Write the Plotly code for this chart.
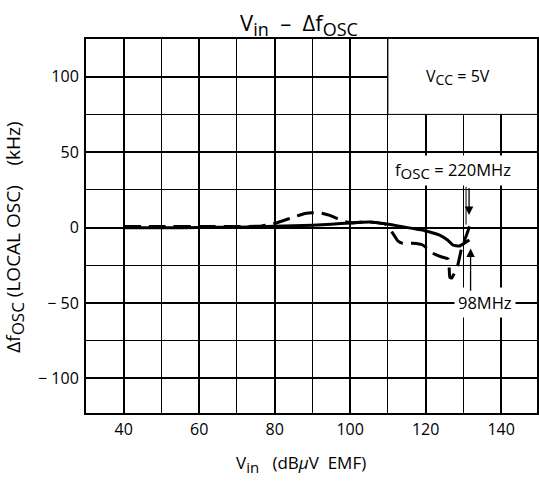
import plotly.graph_objects as go

# ---- data ----
x_98 = [40, 50, 60, 70, 76, 80, 85, 90, 95, 100, 105, 109.7, 113.9, 119.7, 123.7, 125.8, 127.2, 128.9, 130.2, 131.6]
y_98 = [-0.2, -0.2, 0.0, 0.2, 0.5, 0.8, 1.1, 1.5, 2.2, 3.0, 3.6, 2.3, 0.5, -2.1, -5.0, -8.3, -11.6, -12.3, -10.5, -8.3]

x_220 = [40, 50, 60, 70, 76, 79.6, 82.2, 84.9, 88, 90.2, 92.4, 94.6, 96.5, 98.5, 100.5, 105, 109.5,
         111.3, 112.6, 113.9, 116.6, 119.2, 121.9, 124.1, 126.0, 126.4, 126.9, 128.5, 129.4, 130.2, 131.6, 132.4]
y_220 = [0.7, 0.7, 0.7, 0.7, 0.9, 2.5, 4.5, 6.8, 9.3, 9.8, 9.5, 8.0, 6.0, 4.0, 3.2, 3.8, 2.0,
         -3.9, -8.8, -10.5, -10.5, -11.6, -17.1, -19.4, -21.0, -33.0, -33.5, -25.0, -15.0, -9.3, 0.5, 5.5]

x_ticks = [40, 60, 80, 100, 120, 140]
x_ticktext = ["40", "60", "80", "100", "120", "140"]
y_ticks = [-100, -50, 0, 50, 100]
y_ticktext = ["\u2212 100", "\u2212 50", "0", "50", "100"]

FONT = "Open Sans"


def sub(t, size):
    return "<sub><span style='font-size:%dpx'>%s</span></sub>" % (size, t)


fig = go.Figure()
fig.add_trace(go.Scatter(x=x_98, y=y_98, mode="lines", name="98MHz",
                         line=dict(color="black", width=3, shape="spline", smoothing=0.4)))
fig.add_trace(go.Scatter(x=x_220, y=y_220, mode="lines", name="220MHz",
                         line=dict(color="black", width=3, dash="17px,8px", shape="spline", smoothing=0.4)))

# white box for the Vcc note (no grid inside)
fig.add_shape(type="rect", xref="x", yref="y", x0=110, x1=150, y0=75, y1=126,
              fillcolor="white", line=dict(color="black", width=1), layer="between")
# extra thin guide line near the 220MHz arrow
fig.add_shape(type="line", xref="x", yref="y", x0=130.7, x1=130.7, y0=27, y1=2,
              line=dict(color="black", width=1), layer="between")

annotations = [
    dict(text="V" + sub("in", 18) + "  \u2013  \u0394f" + sub("OSC", 18), xref="paper", yref="paper",
         x=0.472, y=1.09, showarrow=False, font=dict(size=22, family=FONT, color="black")),
    dict(text="V" + sub("in", 15) + "   (dB<i>\u03bc</i>V  EMF)", xref="paper", yref="paper",
         x=0.477, y=-0.177, showarrow=False, font=dict(size=17, family=FONT, color="black")),
    dict(text="\u0394f" + sub("OSC", 17) + " (LOCAL OSC)    (kHz)", xref="paper", yref="paper",
         x=-0.195, y=0.47, showarrow=False, textangle=-90,
         font=dict(size=19, family=FONT, color="black")),
    dict(text="V" + sub("CC", 14) + " = 5V", xref="x", yref="y", x=128.5, y=99.5, showarrow=False,
         font=dict(size=16, family=FONT, color="black")),
    dict(text="f" + sub("OSC", 15) + " = 220MHz", xref="x", yref="y", x=127.3, y=37.5, showarrow=False,
         bgcolor="white", borderpad=2, font=dict(size=16.5, family=FONT, color="black")),
    dict(text="98MHz", xref="x", yref="y", x=135.7, y=-50, showarrow=False,
         bgcolor="white", borderpad=3, font=dict(size=16.5, family=FONT, color="black")),
    # arrows
    dict(text="", xref="x", yref="y", axref="x", ayref="y", x=131.5, y=8.3, ax=131.5, ay=27,
         showarrow=True, arrowhead=2, arrowsize=1.3, arrowwidth=1.3, arrowcolor="black"),
    dict(text="", xref="x", yref="y", axref="x", ayref="y", x=131.9, y=-14, ax=131.9, ay=-43,
         showarrow=True, arrowhead=2, arrowsize=1.3, arrowwidth=1.3, arrowcolor="black"),
]

fig.update_layout(
    width=539, height=482,
    margin=dict(l=86, r=2, t=39, b=69, autoexpand=False),
    paper_bgcolor="white", plot_bgcolor="white",
    showlegend=False,
    font=dict(family=FONT, size=16, color="black"),
    annotations=annotations,
)

fig.update_xaxes(range=[30, 149.5], tickmode="array", tickvals=x_ticks, ticktext=x_ticktext,
                 showgrid=True, gridcolor="black", gridwidth=1.5,
                 minor=dict(dtick=10, tick0=30, showgrid=True, gridcolor="black", gridwidth=1),
                 showline=True, linecolor="black", linewidth=2, mirror=True,
                 ticks="", zeroline=False, ticklabelstandoff=1, automargin=False,
                 tickfont=dict(size=16, family=FONT, color="black"))
fig.update_yaxes(range=[-123, 125], tickmode="array", tickvals=y_ticks, ticktext=y_ticktext,
                 showgrid=True, gridcolor="black", gridwidth=1.5,
                 minor=dict(dtick=25, tick0=0, showgrid=True, gridcolor="black", gridwidth=1),
                 showline=True, linecolor="black", linewidth=2, mirror=True,
                 ticks="", zeroline=False, ticklabelstandoff=2, automargin=False,
                 tickfont=dict(size=16, family=FONT, color="black"))

fig.write_html("out.html", config={"displayModeBar": False},
               post_script="document.body.style.margin='0';document.body.style.overflow='hidden';")
